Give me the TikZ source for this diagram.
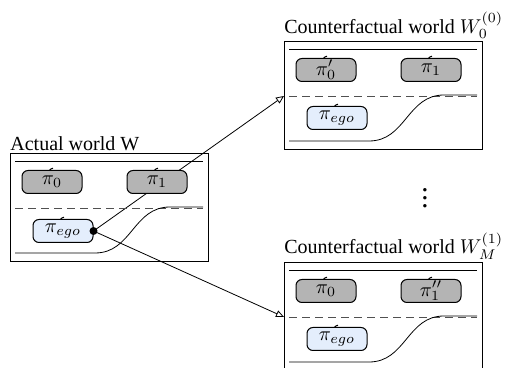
\documentclass[tikz,border=0pt]{standalone}
\usepackage{fontspec}
\setmainfont{Liberation Serif}
\usetikzlibrary{arrows.meta,backgrounds}
\definecolor{carGray}{HTML}{B4B4B4}
\definecolor{egoBlue}{HTML}{E4EEFC}
\definecolor{laneGray}{HTML}{505050}

\begin{document}
\begin{tikzpicture}[x=0.5pt,y=-0.5pt,
      car/.style={draw,rounded corners=3pt,minimum width=30pt,minimum height=11.5pt,
                  inner sep=0pt,line width=0.5pt,
                  append after command={([xshift=-1.3pt,yshift=-0.2pt]\tikzlastnode.north)
                    edge[line width=0.5pt,out=60,in=200] ([xshift=0.5pt,yshift=0.9pt]\tikzlastnode.north)}},
      other/.style={car,fill=carGray},
      ego/.style={car,fill=egoBlue},
      title/.style={anchor=south west,inner xsep=0pt,inner ysep=1pt},
      conn/.style={-{Triangle[open,length=4pt,width=3.5pt]},line width=0.4pt}]
    \useasboundingbox (0,0) rectangle (530,368);

    % the three worlds: frame, road edge, lane marking, ego path
    \foreach \n/\wx/\wy in {a/10/153,c/284/41,m/284/262}{
      \begin{scope}[shift={(\wx,\wy)}]
        \draw (0,0) rectangle (198,108);
        \draw (5,8) -- (193,8);
        \draw[laneGray,dash pattern=on 4pt off 2.5pt] (5,55) -- (193,55);
        \draw (5,100) -- (85,100) .. controls (122,100) and (123,54) .. (160,54) -- (193,54);
        \coordinate (\n in) at (0,55);
      \end{scope}}

    \node[title] (atitle) at (10,153)  {Actual world W};
    \node[title] (ctitle) at (284,41)  {Counterfactual world $W_0^{(0)}$};
    \node[title] (mtitle) at (284,262) {Counterfactual world $W_M^{(1)}$};

    \node[other] (a0)   at (52,182)  {$\pi_0$};
    \node[other] (a1)   at (157,182) {$\pi_1$};
    \node[ego]   (aego) at (63,231)  {$\pi_{ego}$};

    \node[other] (c0)   at (326,70)  {$\pi_0'$};
    \node[other] (c1)   at (431,70)  {$\pi_1$};
    \node[ego]   (cego) at (337,118) {$\pi_{ego}$};

    \node[other] (m0)   at (326,291) {$\pi_0$};
    \node[other] (m1)   at (431,291) {$\pi_1''$};
    \node[ego]   (mego) at (337,339) {$\pi_{ego}$};

    \node[font=\Large] (dots) at (425,192) {$\vdots$};

    \begin{scope}[on background layer]
      \foreach \t in {c,m}
        \draw[conn] (aego.east) -- (\t in);
    \end{scope}
    \fill (aego.east) circle (2pt);
  \end{tikzpicture}
\end{document}
